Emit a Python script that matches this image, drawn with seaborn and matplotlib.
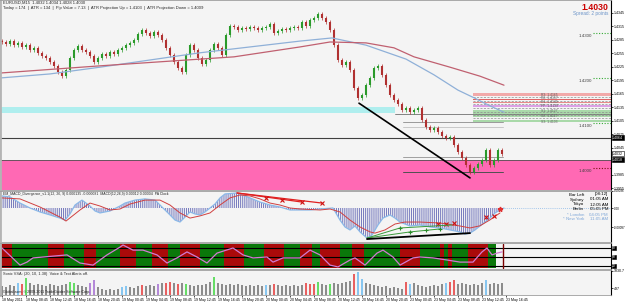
import numpy as np
import seaborn as sns
import matplotlib.pyplot as plt

sns.set_theme(style="white")
plt.rcParams['font.family'] = ['Liberation Sans', 'DejaVu Sans']
plt.rcParams['hatch.linewidth'] = 0.7

# ---------------- data ----------------
# closes of the price bars (one bar per ~40 min slot of the EURUSD M15 chart)
first_open = 1.4283
closes = [
    1.4280, 1.4276, 1.4282, 1.4273, 1.4278, 1.4269, 1.4273, 1.4262, 1.4267, 1.4256,
    1.4249, 1.4244, 1.4236, 1.4227, 1.4213, 1.4204, 1.4218, 1.4244, 1.4262, 1.4271,
    1.4262, 1.4258, 1.4249, 1.4236, 1.4244, 1.4253, 1.4249, 1.4258, 1.4253, 1.4262,
    1.4267, 1.4273, 1.4278, 1.4284, 1.4298, 1.4307, 1.4300, 1.4293, 1.4302, 1.4296,
    1.4284, 1.4267, 1.4251, 1.4236, 1.4222, 1.4213, 1.4251, 1.4273, 1.4262, 1.4244,
    1.4231, 1.4240, 1.4262, 1.4276, 1.4267, 1.4251, 1.4296, 1.4316, 1.4313, 1.4307,
    1.4311, 1.4309, 1.4313, 1.4311, 1.4307, 1.4311, 1.4313, 1.4320, 1.4300, 1.4304,
    1.4309, 1.4307, 1.4311, 1.4313, 1.4311, 1.4324, 1.4316, 1.4329, 1.4333, 1.4342,
    1.4333, 1.4324, 1.4307, 1.4273, 1.4240, 1.4229, 1.4236, 1.4218, 1.4178, 1.4156,
    1.4162, 1.4184, 1.4200, 1.4222, 1.4227, 1.4207, 1.4184, 1.4162, 1.4151, 1.4142,
    1.4129, 1.4133, 1.4124, 1.4129, 1.4133, 1.4107, 1.4091, 1.4084, 1.4089, 1.4080,
    1.4071, 1.4067, 1.4069, 1.4051, 1.4036, 1.4022, 1.4007, 1.3991, 1.4000, 1.4009,
    1.4018, 1.4040, 1.4007, 1.4018, 1.4040, 1.4030,
]

# moving averages (bar index, price)
ma_blue_x = [-0.5, 12, 24.5, 37, 49.5, 62, 74.5, 82.5, 91, 101, 108, 114, 118, 122, 125.5]
ma_blue_y = [1.4200, 1.4209, 1.4224, 1.4240, 1.4256, 1.4269, 1.4282, 1.4289, 1.4273,
             1.4242, 1.4207, 1.4173, 1.4156, 1.4138, 1.4124]
ma_red_x = [-0.5, 24.5, 58, 74.5, 82, 91, 98, 103, 112, 119.5, 125.5]
ma_red_y = [1.4211, 1.4227, 1.4247, 1.4269, 1.4280, 1.4278, 1.4267, 1.4247, 1.4224,
            1.4204, 1.4184]

# trend line drawn on price
trend_x = [89.25, 117]
trend_price = [1.4144, 1.3978]

# horizontal levels / zones
cyan_zone = (1.4122, 1.4136)
pink_zone_top = 1.4018
close_line = 1.4067
pivot_bands = [(1.4160, 1.4167, '#f2a9a9'), (1.4151, 1.4153, '#e06464'),
               (1.4144, 1.4147, '#e88a8a'), (1.4136, 1.4140, '#dca0e6'),
               (1.4114, 1.4129, '#a9d9a9'), (1.4103, 1.4107, '#a9d9a9')]
pivot_dash = [1.4157, 1.4149, 1.4142, 1.4133, 1.4125, 1.4121, 1.4117, 1.4110]
pivot_labels = ['R3: 1.4165', 'R2: 1.4157', 'R1: 1.4149', 'PP: 1.4139',
                'S1: 1.4127', 'S2: 1.4117', 'S3: 1.4103']
pivot_label_y = [1.4163, 1.4155, 1.4147, 1.4138, 1.4126, 1.4116, 1.4102]
round_levels = [1.4300, 1.4200, 1.4100, 1.4000]
short_lines = [(1.4102, '#9a9a9a'), (1.4091, '#c8c8c8'), (1.4024, '#a0a0a0'), (1.3991, '#505050')]
price_ticks = [1.4345, 1.4315, 1.4285, 1.4255, 1.4225, 1.4195, 1.4165, 1.4135,
               1.4105, 1.4075, 1.4045, 1.3985, 1.3955]

# MACD histogram/main and signal (bar index, value)
macd_x = [0, 2, 4.5, 7, 9.5, 12, 14.5, 15.75, 17, 18.25, 20, 22, 23.25, 24.5, 27, 29.5,
          30.75, 33.25, 35.75, 38.25, 39.5, 40.75, 42, 43.25, 44.5, 45.75, 47, 48.25,
          49.5, 50.75, 52, 53.25, 54.5, 55.75, 58.75, 62, 64.5, 67, 69.5, 72, 77, 79.5,
          82.75, 84.5, 85.75, 87, 88.25, 89.5, 91.25, 92.5, 94, 95.25, 97, 98.25, 99.5,
          102, 104.5, 107, 109.5, 112, 114.5, 115.75, 117, 118.25, 119.5, 120.75, 122,
          123.25, 124.5, 125.5]
macd_y = [0.00061, 0.00056, 0.00025, 0.0, -0.00020, -0.00035, -0.00051, -0.00061,
          -0.00030, 0.00015, 0.00040, 0.00010, -0.00015, -0.00025, -0.00015, 0.00010,
          0.00025, 0.00040, 0.00046, 0.00040, 0.00015, -0.00010, -0.00035, -0.00061,
          -0.00071, -0.00046, -0.00020, -0.00030, -0.00035, -0.00020, 0.0, 0.00020,
          0.00051, 0.00071, 0.00076, 0.00051, 0.00030, 0.00015, 0.00005, -0.00010,
          -0.00010, -0.00005, 0.0, -0.00061, -0.00096, -0.00111, -0.00091, -0.00121,
          -0.00152, -0.00137, -0.00086, -0.00051, -0.00035, -0.00051, -0.00071,
          -0.00091, -0.00086, -0.00096, -0.00101, -0.00111, -0.00121, -0.00132,
          -0.00127, -0.00111, -0.00091, -0.00071, -0.00051, -0.00025, -0.00010, 0.0]
signal_x = [0, 4.5, 9.5, 14.5, 16, 19.5, 22, 24.5, 27, 29.5, 32, 35.75, 39.5, 42, 44.5,
            47, 49.5, 52, 54.5, 57, 59.5, 62, 64.5, 67, 69.5, 72, 74.5, 79.5, 82, 84.5,
            87, 89.5, 92, 93.25, 95.75, 98.25, 100.75, 104.5, 109.5, 114.5, 117, 119.5,
            122, 124.5]
signal_y = [0.00051, 0.00046, 0.00005, -0.00046, -0.00066, -0.00010, 0.00025, 0.00010,
            -0.00010, -0.00005, 0.00020, 0.00040, 0.00040, 0.00015, -0.00025, -0.00051,
            -0.00040, -0.00025, 0.00015, 0.00051, 0.00066, 0.00061, 0.00046, 0.00025,
            0.00015, 0.0, -0.00005, -0.00010, -0.00005, -0.00020, -0.00061, -0.00096,
            -0.00121, -0.00127, -0.00111, -0.00081, -0.00071, -0.00071, -0.00076,
            -0.00091, -0.00101, -0.00090, -0.00060, -0.00025]
macd_ticks = [0.00086, 0.0, -0.00097]

# stochastic-style oscillator and its trend colouring
osc_x = [0, 4.5, 6.25, 7.75, 16.25, 19.5, 22.75, 26.25, 29.5, 30.25, 32.75, 35.25, 38.75,
         41.25, 43.75, 46.25, 48.75, 51.25, 53.75, 57.75, 60.25, 62.75, 66.25, 67.75,
         70.25, 74.5, 77, 79.5, 82, 84, 87, 88.25, 90.75, 93.75, 95.25, 97.75, 99.5,
         102.75, 104.5, 107.75, 111.25, 114.5, 117.75, 120, 121.25, 122.5, 123.75, 125]
osc_y = [80, 23, 33, 47, 57, 30, 23, 57, 83, 90, 73, 73, 57, 30, 47, 67, 50, 30, 63, 80,
         57, 47, 50, 33, 47, 47, 73, 57, 23, 17, 40, 47, 23, 63, 73, 50, 23, 47, 50, 47,
         40, 33, 33, 67, 80, 57, 63, 67]
osc_levels = [80, 50, 20]
trend_segments = [(0, 3, 'r'), (3, 12, 'g'), (12, 16, 'r'), (16, 21, 'g'), (21, 24, 'r'),
                  (24, 30, 'g'), (30, 34, 'r'), (34, 38, 'g'), (38, 42, 'r'), (42, 45, 'g'),
                  (45, 50, 'r'), (50, 56, 'g'), (56, 61, 'r'), (61, 66, 'g'), (66, 71, 'r'),
                  (71, 75, 'g'), (75, 78, 'r'), (78, 80, 'g'), (80, 85, 'r'), (85, 88, 'g'),
                  (88, 91, 'r'), (91, 100, 'g'), (100, 105, 'r'), (105, 110, 'g'),
                  (110, 111, 'r'), (111, 112, 'g'), (112, 113, 'r'), (113, 117, 'g'),
                  (117, 122, 'r'), (122, 124, 'g')]

# volume (Sonic VSA) per bar, plus the bars that carry a signal colour
volume = [690, 610, 770, 680, 910, 840, 1290, 920, 760, 830,
          750, 690, 840, 760, 680, 770, 830, 990, 910, 760,
          690, 600, 920, 1140, 610, 460, 380, 450, 390, 460,
          610, 690, 600, 530, 680, 770, 690, 760, 680, 840,
          910, 920, 990, 900, 830, 920, 840, 760, 690, 770,
          760, 830, 990, 1370, 910, 840, 760, 830, 770, 840,
          760, 680, 770, 690, 760, 680, 770, 760, 840, 760,
          690, 770, 680, 760, 690, 760, 910, 830, 840, 990,
          830, 770, 840, 910, 830, 920, 990, 1060, 1600, 1750,
          1220, 910, 830, 770, 690, 610, 680, 530, 600, 540,
          460, 990, 840, 910, 770, 680, 610, 690, 760, 680,
          830, 910, 990, 1140, 840, 910, 830, 770, 840, 760,
          920, 1140, 830, 910, 840, 920]
vol_flags = {4: 'b', 5: 'r', 6: 'g', 17: 'g', 18: 'g', 22: 'p', 23: 'p', 30: 'b', 31: 'b',
             35: 'r', 39: 'p', 41: 'r', 42: 'r', 44: 'r', 46: 'g', 53: 'g', 66: 'b',
             68: 'r', 76: 'r', 77: 'r', 78: 'r', 79: 'g', 82: 'g', 88: 'r', 89: 'b',
             90: 'b', 101: 'r', 102: 'b', 111: 'b', 112: 'r', 113: 'r', 121: 'b'}

date_labels = ["18 May 2011", "18 May 08:45", "18 May 12:45", "18 May 16:45", "18 May 20:45",
               "19 May 00:45", "19 May 04:45", "19 May 08:45", "19 May 12:45", "19 May 16:45",
               "19 May 20:45", "20 May 00:45", "20 May 04:45", "20 May 08:45", "20 May 12:45",
               "20 May 16:45", "20 May 20:45", "23 May 00:45", "23 May 04:45", "23 May 08:45",
               "23 May 12:45", "23 May 16:45"]

clock_names = ["Bar Left", "Sydney", "Tokyo", "Berlin", "* London", "* New York"]
clock_times = ["[08:12]", "01:05 AM", "12:05 AM", "05:05 PM", "04:05 PM", "11:05 AM"]

# ---------------- layout (pixel based, like the terminal window) ----------------
W, H = 625, 303
XR = 611  # right edge of the chart area
TICK_FS = 2.6
fig = plt.figure(figsize=(W / 100, H / 100), dpi=100)
fig.patch.set_facecolor('white')


def panel(top, bottom):
    ax = fig.add_axes([0, 1 - bottom / H, XR / W, (bottom - top) / H])
    ax.set_facecolor('#f4f4f4')
    ax.set_xlim(-0.5, 152.25)
    ax.set_xticks([])
    for s in ax.spines.values():
        s.set_color('#9c9c9c')
        s.set_linewidth(0.6)
    ax.spines['left'].set_linewidth(2.0)
    ax.spines['left'].set_color('#b4b4b4')
    ax.spines['right'].set_color('black')
    ax.spines['right'].set_linewidth(0.8)
    ax.yaxis.tick_right()
    ax.tick_params(axis='y', labelsize=TICK_FS, length=1.5, width=0.5, pad=0.6, colors='black')
    return ax


def ptext(x, y, s, **kw):
    fig.text(x / W, 1 - y / H, s, **kw)


box_black = dict(boxstyle='square,pad=0.12', fc='black', ec='black', lw=0.4)
box_white = dict(boxstyle='square,pad=0.12', fc='white', ec='black', lw=0.4)

ax_p = panel(0, 190)
ax_m = panel(191, 242)
ax_s = panel(243, 269)
ax_v = panel(270, 295)

# ---------------- price panel ----------------
ax_p.set_ylim(1.39511, 1.43733)
ax_p.set_yticks(price_ticks)
ax_p.set_yticklabels([f"{t:.4f}" for t in price_ticks])
ax_p.axhspan(cyan_zone[0], cyan_zone[1], xmin=0, xmax=395 / XR, color='#afeeee', lw=0)
ax_p.axhspan(1.3900, pink_zone_top, color='#ff69b4', lw=0)
ax_p.axhline(pink_zone_top, color='#505050', lw=0.6)
ax_p.axhline(close_line, color='#404040', lw=0.8)
ax_p.axhline(cyan_zone[0] - 0.0002, xmin=395 / XR, xmax=1, color='#707070', lw=0.6)
for lev, col in short_lines:
    ax_p.axhline(lev, xmin=403 / XR, xmax=503 / XR, color=col, lw=0.7)

for lo, hi, col in pivot_bands:
    ax_p.axhspan(lo, hi, xmin=473 / XR, xmax=1, color=col, lw=0)
for lev in pivot_dash:
    ax_p.axhline(lev, xmin=473 / XR, xmax=1, color='#8c8c8c', lw=0.5, ls=(0, (3, 2)))
for lab, lev in zip(pivot_labels, pivot_label_y):
    ax_p.text(541 / XR, lev, lab, transform=ax_p.get_yaxis_transform(), fontsize=2.4,
              color='#606060', va='center')

for lev in round_levels:
    col = '#7a1010' if lev == 1.4000 else '#33aa33'
    ax_p.axhline(lev, xmin=593 / XR, xmax=1, color=col, lw=0.8, ls=(0, (1, 1.5)))
    ax_p.text(585 / XR, lev - 0.0003, f"{lev:.4f}", transform=ax_p.get_yaxis_transform(),
              fontsize=3.2, color='#404040', ha='center', va='top')

# candles
opens = [first_open] + closes[:-1]
idx = np.arange(len(closes))
for i, o, c in zip(idx, opens, closes):
    col = '#2a9a2a' if c >= o else '#b03030'
    lo, hi = min(o, c), max(o, c)
    ax_p.vlines(i, lo - 0.0004, hi + 0.0004, color=col, lw=0.5)
    ax_p.vlines(i, lo, max(hi, lo + 0.00005), color=col, lw=1.5)

sns.lineplot(x=ma_blue_x, y=ma_blue_y, ax=ax_p, color='#8fb0d8', lw=0.9)
sns.lineplot(x=ma_red_x, y=ma_red_y, ax=ax_p, color='#c06070', lw=0.9)
sns.lineplot(x=trend_x, y=trend_price, ax=ax_p, color='black', lw=1.2)
ax_p.set_xlabel('')
ax_p.set_ylabel('')

# label boxes on the price axis
yt = ax_p.get_yaxis_transform()
ax_p.text(1.002, close_line, f"{close_line - 0.0003:.4f}", transform=yt, fontsize=TICK_FS,
          color='white', va='center', bbox=box_black)
ax_p.text(1.002, 1.4032, "1.4032", transform=yt, fontsize=TICK_FS, color='black',
          va='center', bbox=box_white)
ax_p.text(1.002, 1.4018, "1.4018", transform=yt, fontsize=TICK_FS, color='white',
          va='center', bbox=box_black)

ptext(3, 3, "EURUSD,M15  1.4032 1.4034 1.4028 1.4030", fontsize=3.0, va='center')
ptext(3, 7.5, "Today = 174  |  ATR = 134  |  Pip Value = 7.13  |  ATR Projection Up = 1.4103"
              "  |  ATR Projection Down = 1.4009", fontsize=3.0, va='center')
ptext(608, 7, "1.4030", fontsize=6.3, color='#cc0000', weight='bold', ha='right', va='center')
ptext(608, 14, "Spread: 2 points", fontsize=3.4, color='#6a93c8', ha='right', va='center')

# ---------------- MACD panel ----------------
ax_m.set_ylim(-0.00172, 0.00086)
ax_m.set_yticks(macd_ticks)
ax_m.set_yticklabels(['0.00086', '0.00', '-0.00097'])
ax_m.tick_params(axis='y', labelsize=2.2, pad=0.4)
ax_m.fill_between(macd_x, 0, macd_y, facecolor='none', edgecolor='#7478bd', hatch='|' * 8, lw=0)
sns.lineplot(x=macd_x, y=macd_y, ax=ax_m, color='#8ab8e8', lw=0.9)
sns.lineplot(x=signal_x, y=signal_y, ax=ax_m, color='#d04040', lw=0.7)
ax_m.axhline(0, xmin=500 / XR, xmax=1, color='#8ab8e8', lw=0.6, ls=(0, (1, 1.5)))
ax_m.plot([58.75, 80], [0.00076, 0.00025], color='#e02020', lw=0.9)
ax_m.plot([58.75, 75], [0.00076, 0.00030], color='#e02020', lw=0.9)
ax_m.plot([66, 70, 75, 80, 109, 111, 113, 121, 123], [0.00052, 0.00040, 0.00030, 0.00025,
          -0.00082, -0.00080, -0.00078, -0.00045, -0.00040], ls='none', marker='x',
          ms=2.2, mew=0.8, color='#d01010')
ax_m.plot([124.5], [-0.00005], ls='none', marker='*', ms=3.5, color='#e03030')
ax_m.plot([91.25, 99.5, 112.5], [-0.00152, -0.00101, -0.00086], color='#3a9a3a', lw=0.7)
ax_m.plot([91.25, 102, 109.5], [-0.00152, -0.00121, -0.00106], color='#3a9a3a', lw=0.7)
ax_m.plot([99.5, 102, 106, 109.5], [-0.00101, -0.00121, -0.00112, -0.00106], ls='none',
          marker='+', ms=2.5, mew=0.8, color='#2a8a2a')
ax_m.plot([91.25, 117], [-0.00157, -0.00127], color='black', lw=1.3)
ax_m.set_xlabel('')
ax_m.set_ylabel('')
ptext(3, 194.5, "EM_MACD_Divergence_v1.1(12, 26, 9) 0.000135 -0.000081  MACD(12,26,9) 0.00012"
                " 0.00004  PA Clock", fontsize=2.5, va='center')
for k, (nm, tm) in enumerate(zip(clock_names, clock_times)):
    col = '#7ea6d8' if nm.startswith('*') else 'black'
    ptext(584, 194.5 + 5 * k, nm, fontsize=3.2, color=col, ha='right', va='center')
    ptext(608, 194.5 + 5 * k, tm, fontsize=3.2, color=col, ha='right', va='center')

# ---------------- oscillator panel ----------------
ax_s.set_ylim(10, 96.7)
ax_s.set_yticks([])
for a, b, t in trend_segments:
    ax_s.axvspan(a - 0.5, b - 0.5, ymin=0.04, ymax=0.96,
                 color='#0a780a' if t == 'g' else '#aa0a0a', lw=0)
for lev in osc_levels:
    ax_s.axhline(lev, color='black', lw=0.8)
    ax_s.text(1.002, lev, str(lev), transform=ax_s.get_yaxis_transform(), fontsize=2.4,
              color='white', va='center', bbox=box_black)
sns.lineplot(x=osc_x, y=osc_y, ax=ax_s, color='#d27ad2', lw=0.9)
ax_s.axvline(125.25, ymin=0.04, ymax=0.96, color='#7a0000', lw=1.0)
ax_s.set_xlabel('')
ax_s.set_ylabel('')

# ---------------- volume panel ----------------
vol_cols = {'b': '#87c6f0', 'r': '#e86060', 'g': '#66dd66', 'p': '#b488d8'}
ax_v.set_ylim(0, 1900)
ax_v.set_yticks([1830.7, 497])
ax_v.set_yticklabels(['1830.7', '497'])
bar_cols = [vol_cols.get(vol_flags.get(i, ''), '#8c8c8c') for i in idx]
ax_v.bar(idx, volume, width=0.55, color=bar_cols, lw=0)
ptext(3, 273.5, "Sonic VSA: (20, 10, 1.38)  Voice & Text Alerts off.", fontsize=2.8, va='center')
ptext(3, 291.5, "Global asm. \u00a9 2009-2011 TradeGuider Software Corp.", fontsize=2.6,
      va='center', color='#202020')

ax_v.set_xticks(np.arange(len(date_labels)) * 6)
ax_v.set_xticklabels(date_labels, fontsize=2.6, ha='left')
ax_v.tick_params(axis='x', length=1.5, width=0.5, pad=0.8, bottom=True, colors='black')

fig.savefig('out.png', dpi=100)
